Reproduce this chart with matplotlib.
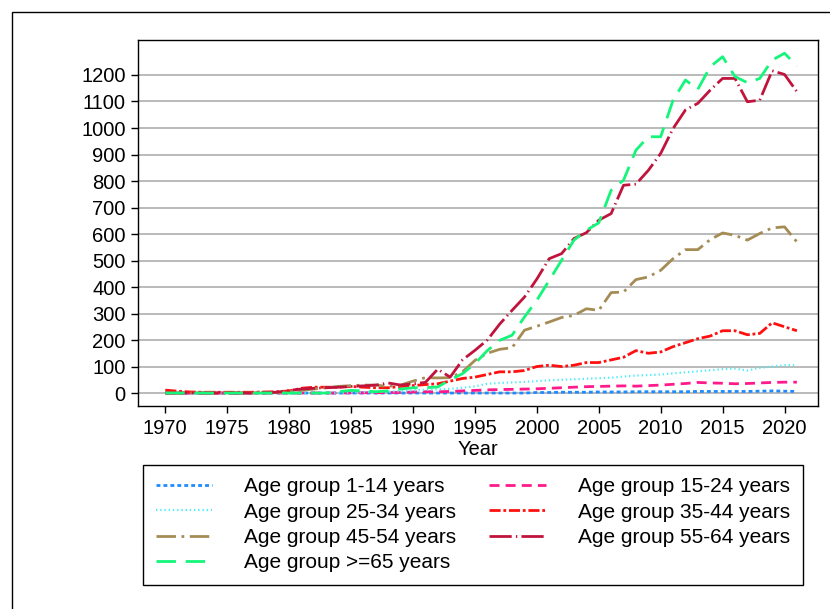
import matplotlib
matplotlib.use("Agg")
import matplotlib.pyplot as plt
from matplotlib.patches import Rectangle

plt.rcParams['font.family'] = ['Liberation Sans', 'DejaVu Sans']

years = list(range(1970, 2022))

# values
age_1_14 = [0]*30 + [2, 2, 3, 3, 3, 4, 4, 4, 5, 5, 5, 5, 5, 6, 6, 6, 6, 6, 7, 8, 7, 6]
age_15_24 = [0]*15 + [1, 1, 1, 2, 2, 4, 5, 5, 6, 8, 10, 12, 13, 14, 15, 16, 18, 20, 22, 24,
                      25, 26, 27, 26, 28, 30, 33, 36, 40, 38, 37, 35, 36, 38, 40, 41, 41]
age_25_34 = [0]*15 + [2, 3, 4, 5, 7, 10, 12, 14, 16, 20, 25, 35, 38, 40, 42, 45, 48, 50, 52,
                      54, 56, 58, 62, 66, 68, 70, 74, 78, 82, 86, 90, 92, 85, 95, 100, 105, 105]
age_35_44 = [11, 7, 4, 3, 3, 3, 3, 3, 4, 5, 8, 18, 22, 22, 22, 25, 22, 20, 20, 25, 28, 32, 35,
             45, 55, 60, 70, 80, 80, 85, 100, 105, 100, 105, 115, 115, 125, 135, 160, 150, 155,
             175, 190, 205, 215, 235, 235, 220, 225, 265, 250, 235]
age_45_54 = [0, 0, 0, 0, 0, 0, 0, 0, 1, 2, 5, 10, 15, 20, 25, 28, 30, 30, 25, 30, 45, 58, 57,
             58, 80, 123, 150, 165, 171, 237, 252, 268, 285, 293, 318, 312, 379, 381, 428, 438,
             463, 507, 541, 541, 579, 604, 595, 577, 602, 623, 627, 570]
age_55_64 = [0, 0, 0, 0, 0, 0, 0, 0, 1, 3, 10, 15, 18, 20, 22, 25, 27, 30, 38, 30, 35, 40, 90,
             60, 125, 161, 200, 260, 312, 362, 430, 507, 526, 583, 605, 652, 677, 784, 788, 840,
             904, 998, 1068, 1093, 1143, 1187, 1187, 1099, 1105, 1216, 1202, 1137]
age_65 = [0]*14 + [5, 10, 8, 5, 8, 15, 20, 20, 23, 50, 73, 111, 160, 199, 218, 287, 350, 425,
                   501, 577, 614, 642, 765, 803, 916, 967, 967, 1105, 1181, 1146, 1231, 1269, 1194,
                   1171, 1187, 1256, 1282, 1234]

labels = ['Age group 1-14 years', 'Age group 15-24 years', 'Age group 25-34 years',
          'Age group 35-44 years', 'Age group 45-54 years', 'Age group 55-64 years',
          'Age group >=65 years']
series = [age_1_14, age_15_24, age_25_34, age_35_44, age_45_54, age_55_64, age_65]
colors = ['#1E8CFF', '#FF1A8C', '#4DEEF5', '#FF1010', '#A58C55', '#C0143C', '#14F57A']
styles = [(0, (1.4, 1.1)), (0, (3.6, 2.2)), (0, (0.6, 1.3)), (0, (4, 1, 1, 1)),
          (0, (7, 2, 1, 2)), (0, (8, 1.5, 0.5, 1.5)), (0, (7, 3.5))]
widths = [2, 2, 1.6, 2, 2, 2, 2]

fig = plt.figure(figsize=(8.3, 6.09), dpi=100)
ax = fig.add_axes([0.1663, 0.3333, 0.8192, 0.601])

lines = []
for s, lab, c, ls, w in zip(series, labels, colors, styles, widths):
    ln, = ax.plot(years, s, color=c, linestyle=ls, linewidth=w, label=lab)
    lines.append(ln)

ax.set_xlim(1967.8, 2022.7)
ax.set_ylim(-49, 1332)
ax.set_yticks(range(0, 1201, 100))
ax.set_xticks(range(1970, 2021, 5))
ax.yaxis.grid(True, color='#B4B4B4', linewidth=1.3)
ax.set_axisbelow(True)
ax.tick_params(labelsize=14.5, length=5, width=1, colors='black', pad=4)
for sp in ax.spines.values():
    sp.set_linewidth(1)
ax.set_xlabel('Year', fontsize=14.5, labelpad=2)

order = [0, 2, 4, 6, 1, 3, 5]
leg = fig.legend([lines[i] for i in order], [labels[i] for i in order], ncol=2,
                 loc='upper left', bbox_to_anchor=(143/830, 1 - 465/609),
                 fontsize=15, handlelength=2.7, handletextpad=1.55, columnspacing=1.6,
                 fancybox=False, edgecolor='black', framealpha=1, labelspacing=0.3,
                 borderpad=0.6, borderaxespad=0)
leg.get_frame().set_linewidth(1)

fig.patches.append(Rectangle((12/830, -0.1), 1.2, 1 - 12/609 + 0.1, fill=False,
                             edgecolor='black', linewidth=1, transform=fig.transFigure))

fig.savefig('out.png', dpi=100)
